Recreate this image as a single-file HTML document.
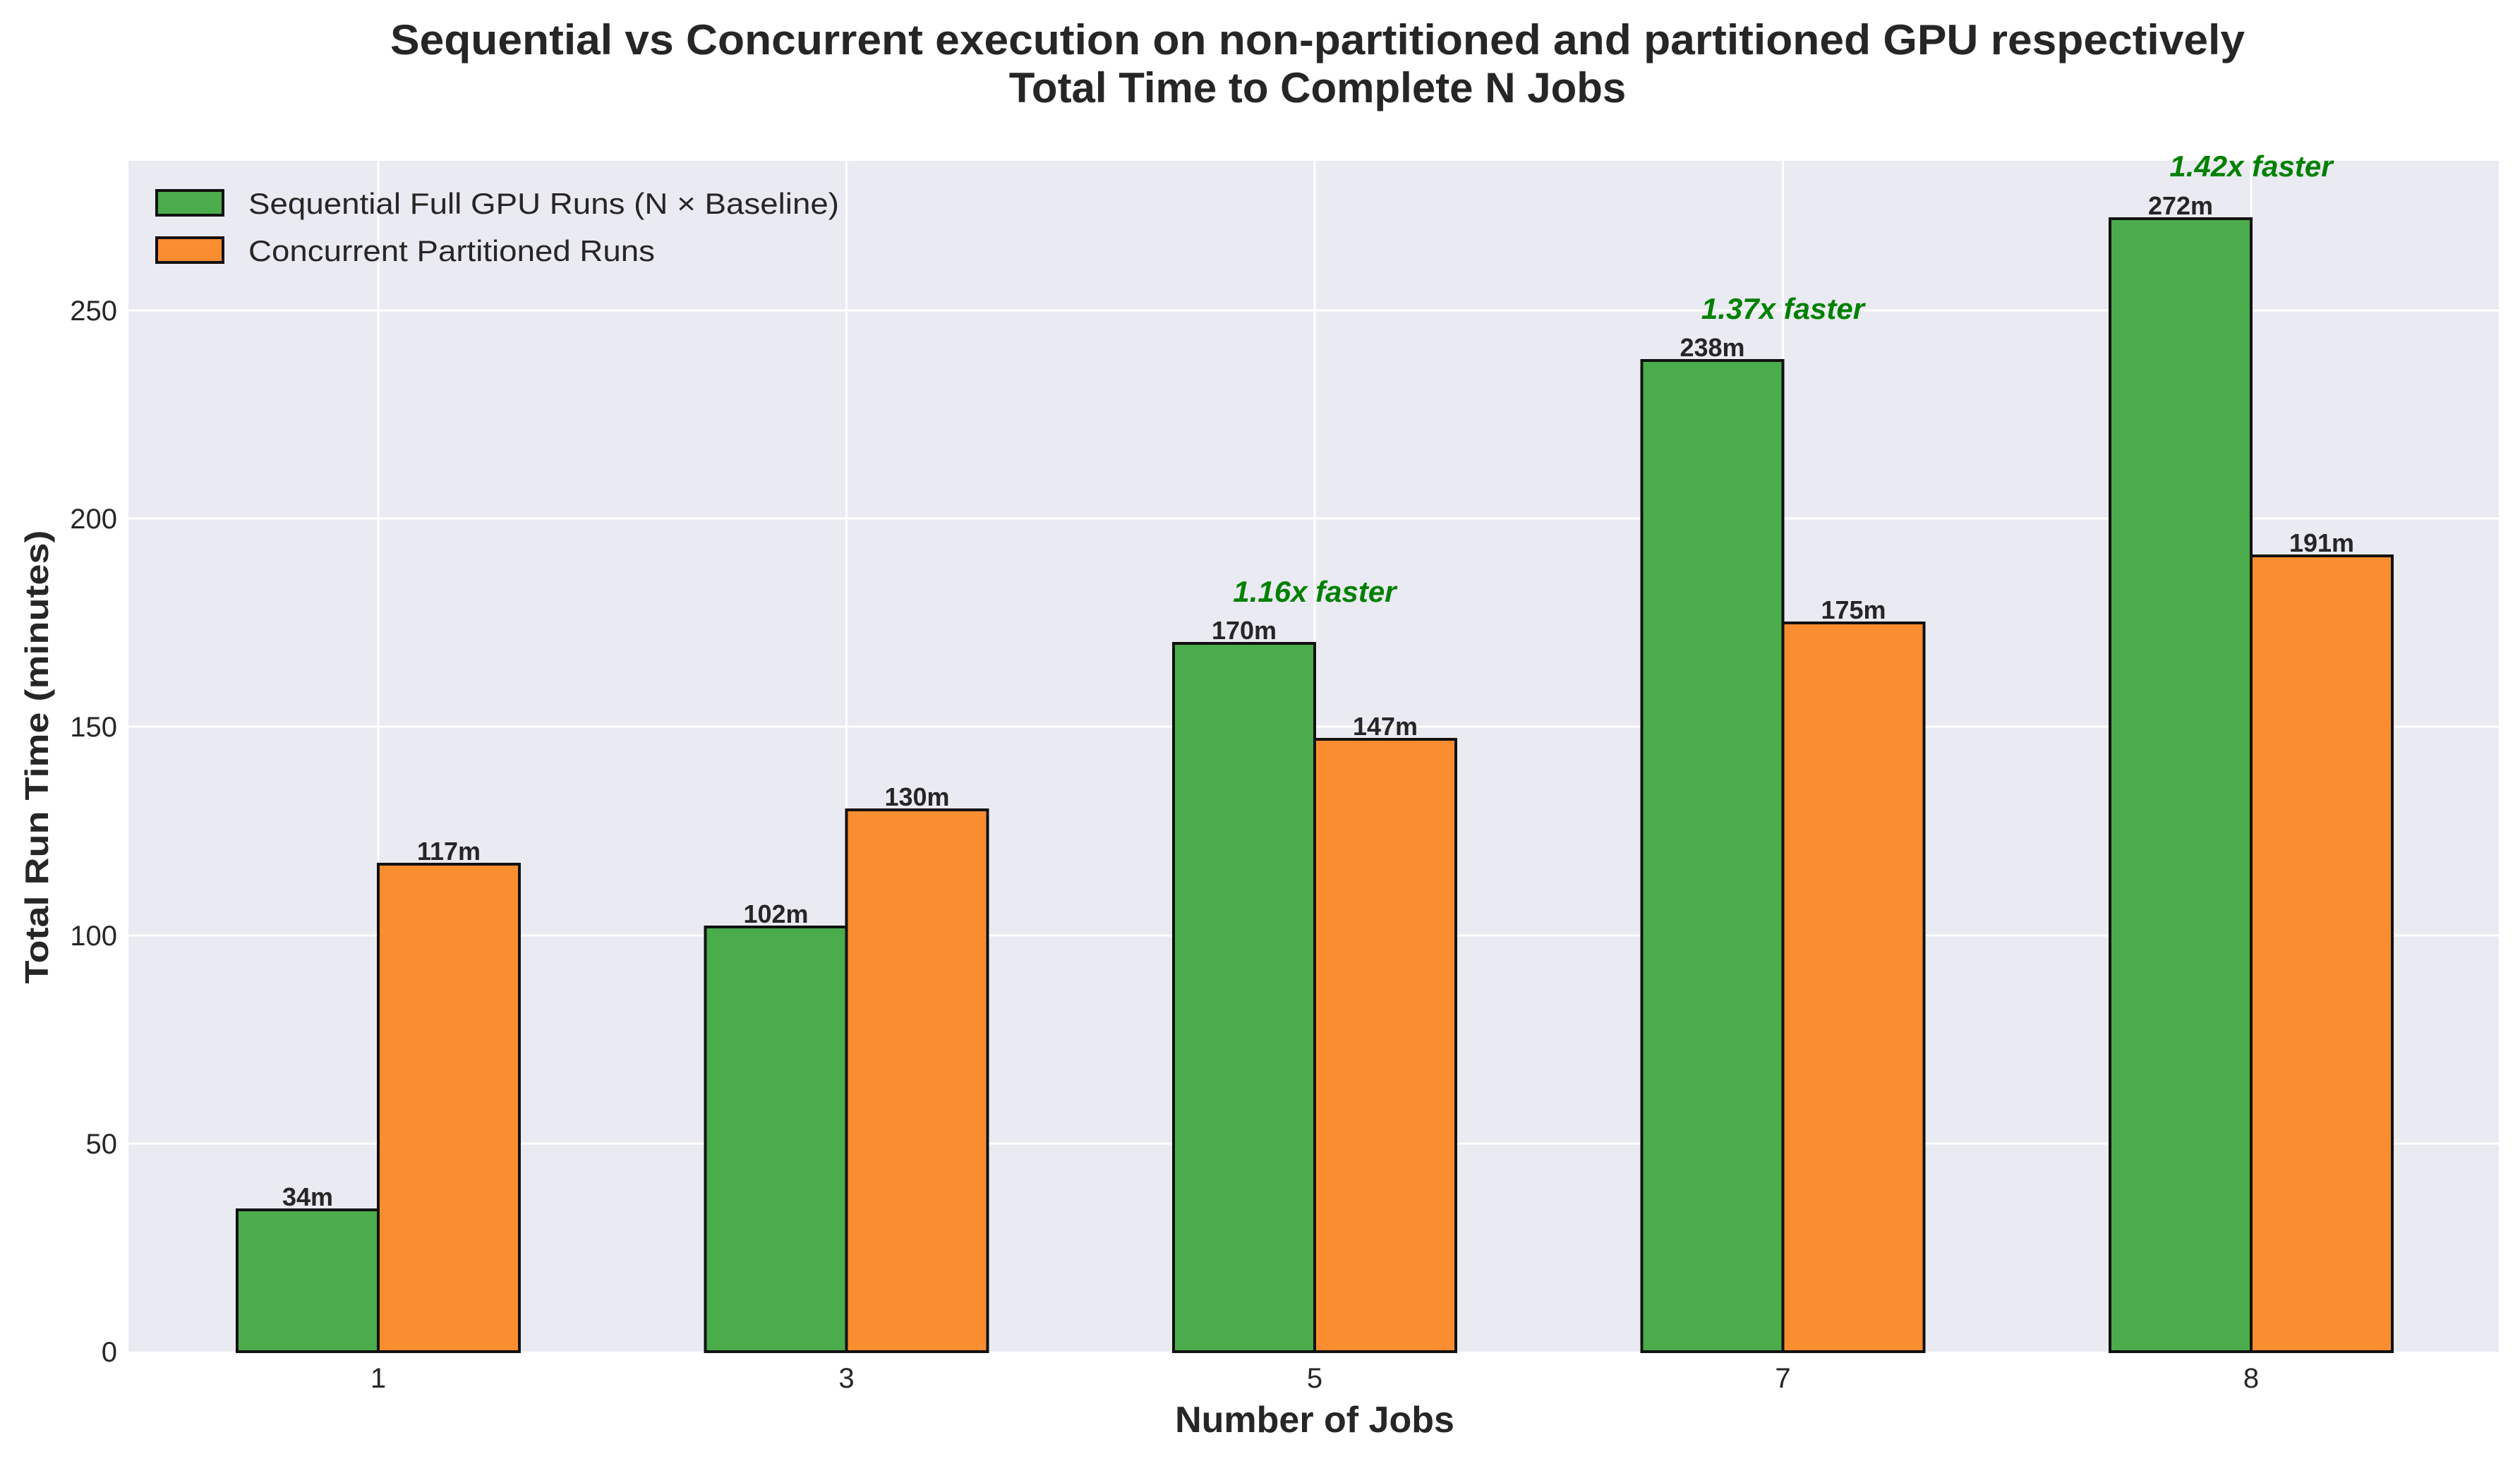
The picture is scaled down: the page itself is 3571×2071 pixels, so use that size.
<!DOCTYPE html>
<html><head><meta charset="utf-8"><style>html,body{margin:0;padding:0;background:#fff}svg{display:block}</style></head>
<body>
<svg xmlns="http://www.w3.org/2000/svg" width="3571" height="2071" viewBox="0 0 3571 2071" font-family="Liberation Sans, Arial, sans-serif">
<rect width="3571" height="2071" fill="#fff"/>
<rect x="182" y="228" width="3359" height="1688" fill="#eaeaf2"/>
<g stroke="#fff" stroke-width="3">
<line x1="182" x2="3541" y1="1621" y2="1621"/>
<line x1="182" x2="3541" y1="1326" y2="1326"/>
<line x1="182" x2="3541" y1="1030" y2="1030"/>
<line x1="182" x2="3541" y1="735" y2="735"/>
<line x1="182" x2="3541" y1="440" y2="440"/>
<line y1="228" y2="1916" x1="536" x2="536"/>
<line y1="228" y2="1916" x1="1199.5" x2="1199.5"/>
<line y1="228" y2="1916" x1="1863" x2="1863"/>
<line y1="228" y2="1916" x1="2526.5" x2="2526.5"/>
<line y1="228" y2="1916" x1="3190" x2="3190"/>
</g>
<g stroke="#111" stroke-width="4">
<rect x="336" y="1715" width="200" height="201" fill="#4aac4b"/>
<rect x="536" y="1225" width="200" height="691" fill="#fa8d30"/>
<rect x="999.5" y="1314" width="200" height="602" fill="#4aac4b"/>
<rect x="1199.5" y="1148" width="200" height="768" fill="#fa8d30"/>
<rect x="1663" y="912" width="200" height="1004" fill="#4aac4b"/>
<rect x="1863" y="1048" width="200" height="868" fill="#fa8d30"/>
<rect x="2326.5" y="511" width="200" height="1405" fill="#4aac4b"/>
<rect x="2526.5" y="883" width="200" height="1033" fill="#fa8d30"/>
<rect x="2990" y="310" width="200" height="1606" fill="#4aac4b"/>
<rect x="3190" y="788" width="200" height="1128" fill="#fa8d30"/>
</g>
<g font-size="36" font-weight="bold" fill="#262626" text-anchor="middle">
<text x="436" y="1709">34m</text>
<text x="636" y="1219">117m</text>
<text x="1099.5" y="1308">102m</text>
<text x="1299.5" y="1142">130m</text>
<text x="1763" y="906">170m</text>
<text x="1963" y="1042">147m</text>
<text x="2426.5" y="505">238m</text>
<text x="2626.5" y="877">175m</text>
<text x="3090" y="304">272m</text>
<text x="3290" y="782">191m</text>
</g>
<g font-size="42" font-weight="bold" font-style="italic" fill="#008000" text-anchor="middle">
<text x="1863" y="853">1.16x faster</text>
<text x="2526.5" y="452">1.37x faster</text>
<text x="3190" y="250">1.42x faster</text>
</g>
<g font-size="40" fill="#262626" text-anchor="end">
<text x="166" y="1930">0</text>
<text x="166" y="1635">50</text>
<text x="166" y="1340">100</text>
<text x="166" y="1044">150</text>
<text x="166" y="749">200</text>
<text x="166" y="454">250</text>
</g>
<g font-size="40" fill="#262626" text-anchor="middle">
<text x="536" y="1967">1</text>
<text x="1199.5" y="1967">3</text>
<text x="1863" y="1967">5</text>
<text x="2526.5" y="1967">7</text>
<text x="3190" y="1967">8</text>
</g>
<text x="1863" y="2030" font-size="52" font-weight="bold" fill="#262626" text-anchor="middle">Number of Jobs</text>
<text transform="translate(68,1073) rotate(-90)" font-size="46" font-weight="bold" fill="#262626" text-anchor="middle" textLength="643" lengthAdjust="spacingAndGlyphs">Total Run Time (minutes)</text>
<text x="1867" y="77" font-size="60" font-weight="bold" fill="#262626" text-anchor="middle" textLength="2628" lengthAdjust="spacingAndGlyphs">Sequential vs Concurrent execution on non-partitioned and partitioned GPU respectively</text>
<text x="1867" y="145" font-size="60" font-weight="bold" fill="#262626" text-anchor="middle">Total Time to Complete N Jobs</text>
<rect x="222" y="270" width="94" height="35" fill="#4aac4b" stroke="#111" stroke-width="4"/>
<rect x="222" y="337" width="94" height="35" fill="#fa8d30" stroke="#111" stroke-width="4"/>
<text x="352" y="303" font-size="42" fill="#262626" textLength="837" lengthAdjust="spacingAndGlyphs">Sequential Full GPU Runs (N × Baseline)</text>
<text x="352" y="370" font-size="42" fill="#262626" textLength="576" lengthAdjust="spacingAndGlyphs">Concurrent Partitioned Runs</text>
</svg>
</body></html>
